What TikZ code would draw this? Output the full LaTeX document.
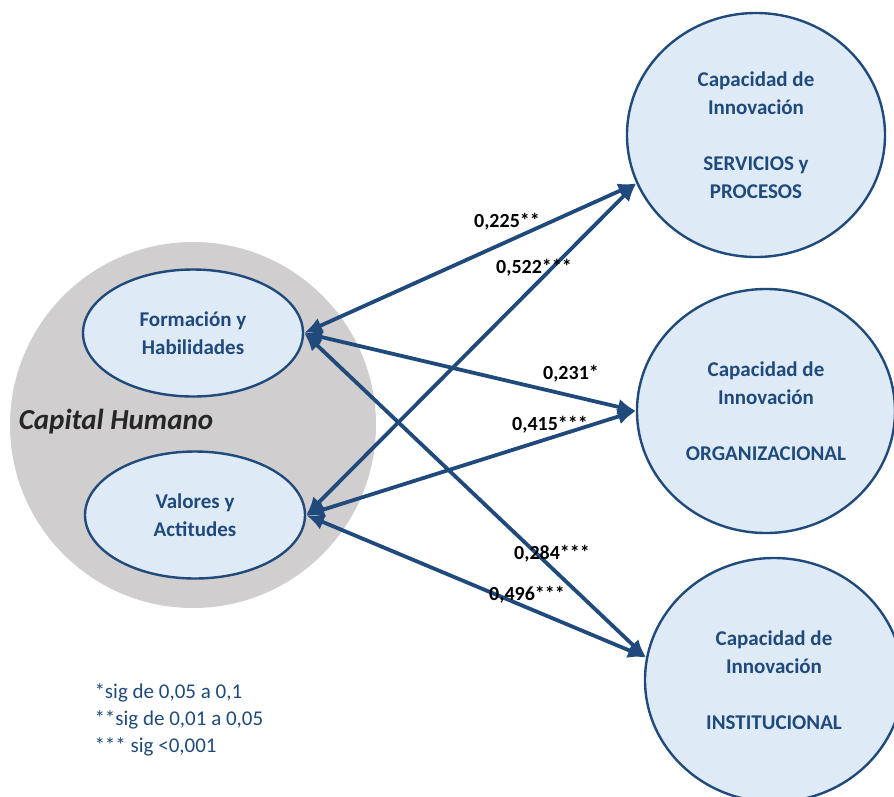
\documentclass[tikz,border=0pt]{standalone}
\usepackage{fontspec}
\setmainfont{Carlito}
\usepackage{xcolor}
\usepackage{tikz}
\usetikzlibrary{shapes.geometric,arrows.meta}
\definecolor{azul}{HTML}{1F4A7B}
\definecolor{celeste}{HTML}{DEEAF6}
\definecolor{gris}{HTML}{D0CECE}
\definecolor{oscuro}{HTML}{262626}

\begin{document}
\begin{tikzpicture}[x=1pt, y=-1pt,
  dim/.style={draw=azul,line width=2.4pt,fill=celeste,ellipse,inner sep=0pt,align=center,text=azul,font=\fontsize{21}{28}\selectfont\bfseries},
  capac/.style={dim,minimum width=258pt,minimum height=244pt},
  sub/.style={dim,minimum width=220pt,minimum height=127pt},
  rel/.style={{Latex[length=18pt,width=16pt]}-{Latex[length=18pt,width=16pt]},azul,line width=3.8pt},
  coef/.style={font=\fontsize{20}{24}\selectfont\bfseries,text=black,inner sep=1pt}]
\clip (0,0) rectangle (894,796);
\node (ch) at (193,425) [circle,fill=gris,minimum size=366pt,inner sep=0pt] {};
\node (chtxt) at (116,422) [text=oscuro,font=\fontsize{29}{32}\selectfont\bfseries\itshape] {Capital Humano};
\node (fh) at (193,333) [sub] {Formación y\\Habilidades};
\node (va) at (195,515) [sub] {Valores y\\Actitudes};
\node (sp) at (756,135) [capac] {Capacidad de\\Innovación\\[28pt]SERVICIOS y\\PROCESOS};
\node (org) at (766,411) [capac] {Capacidad de\\Innovación\\[28pt]ORGANIZACIONAL};
\node (ins) at (774,680) [capac] {Capacidad de\\Innovación\\[28pt]INSTITUCIONAL};
\draw[rel] (fh.east) -- (sp.202);
\draw[rel] (va.east) -- (sp.202);
\draw[rel] (fh.east) -- (org.180);
\draw[rel] (va.east) -- (org.180);
\draw[rel] (fh.east) -- (ins.170);
\draw[rel] (va.east) -- (ins.170);
\node (c1) at (507,222) [coef] {0,225**};
\node (c2) at (534,268) [coef] {0,522***};
\node (c3) at (571,374) [coef] {0,231*};
\node (c4) at (550,425) [coef] {0,415***};
\node (c5) at (552,554) [coef] {0,284***};
\node (c6) at (527,595) [coef] {0,496***};
\node (ley) at (91,720) [anchor=west,align=left,text=azul,font=\fontsize{21}{27}\selectfont] {*sig de 0,05 a 0,1\\**sig de 0,01 a 0,05\\*** sig <0,001};
\end{tikzpicture}
\end{document}
